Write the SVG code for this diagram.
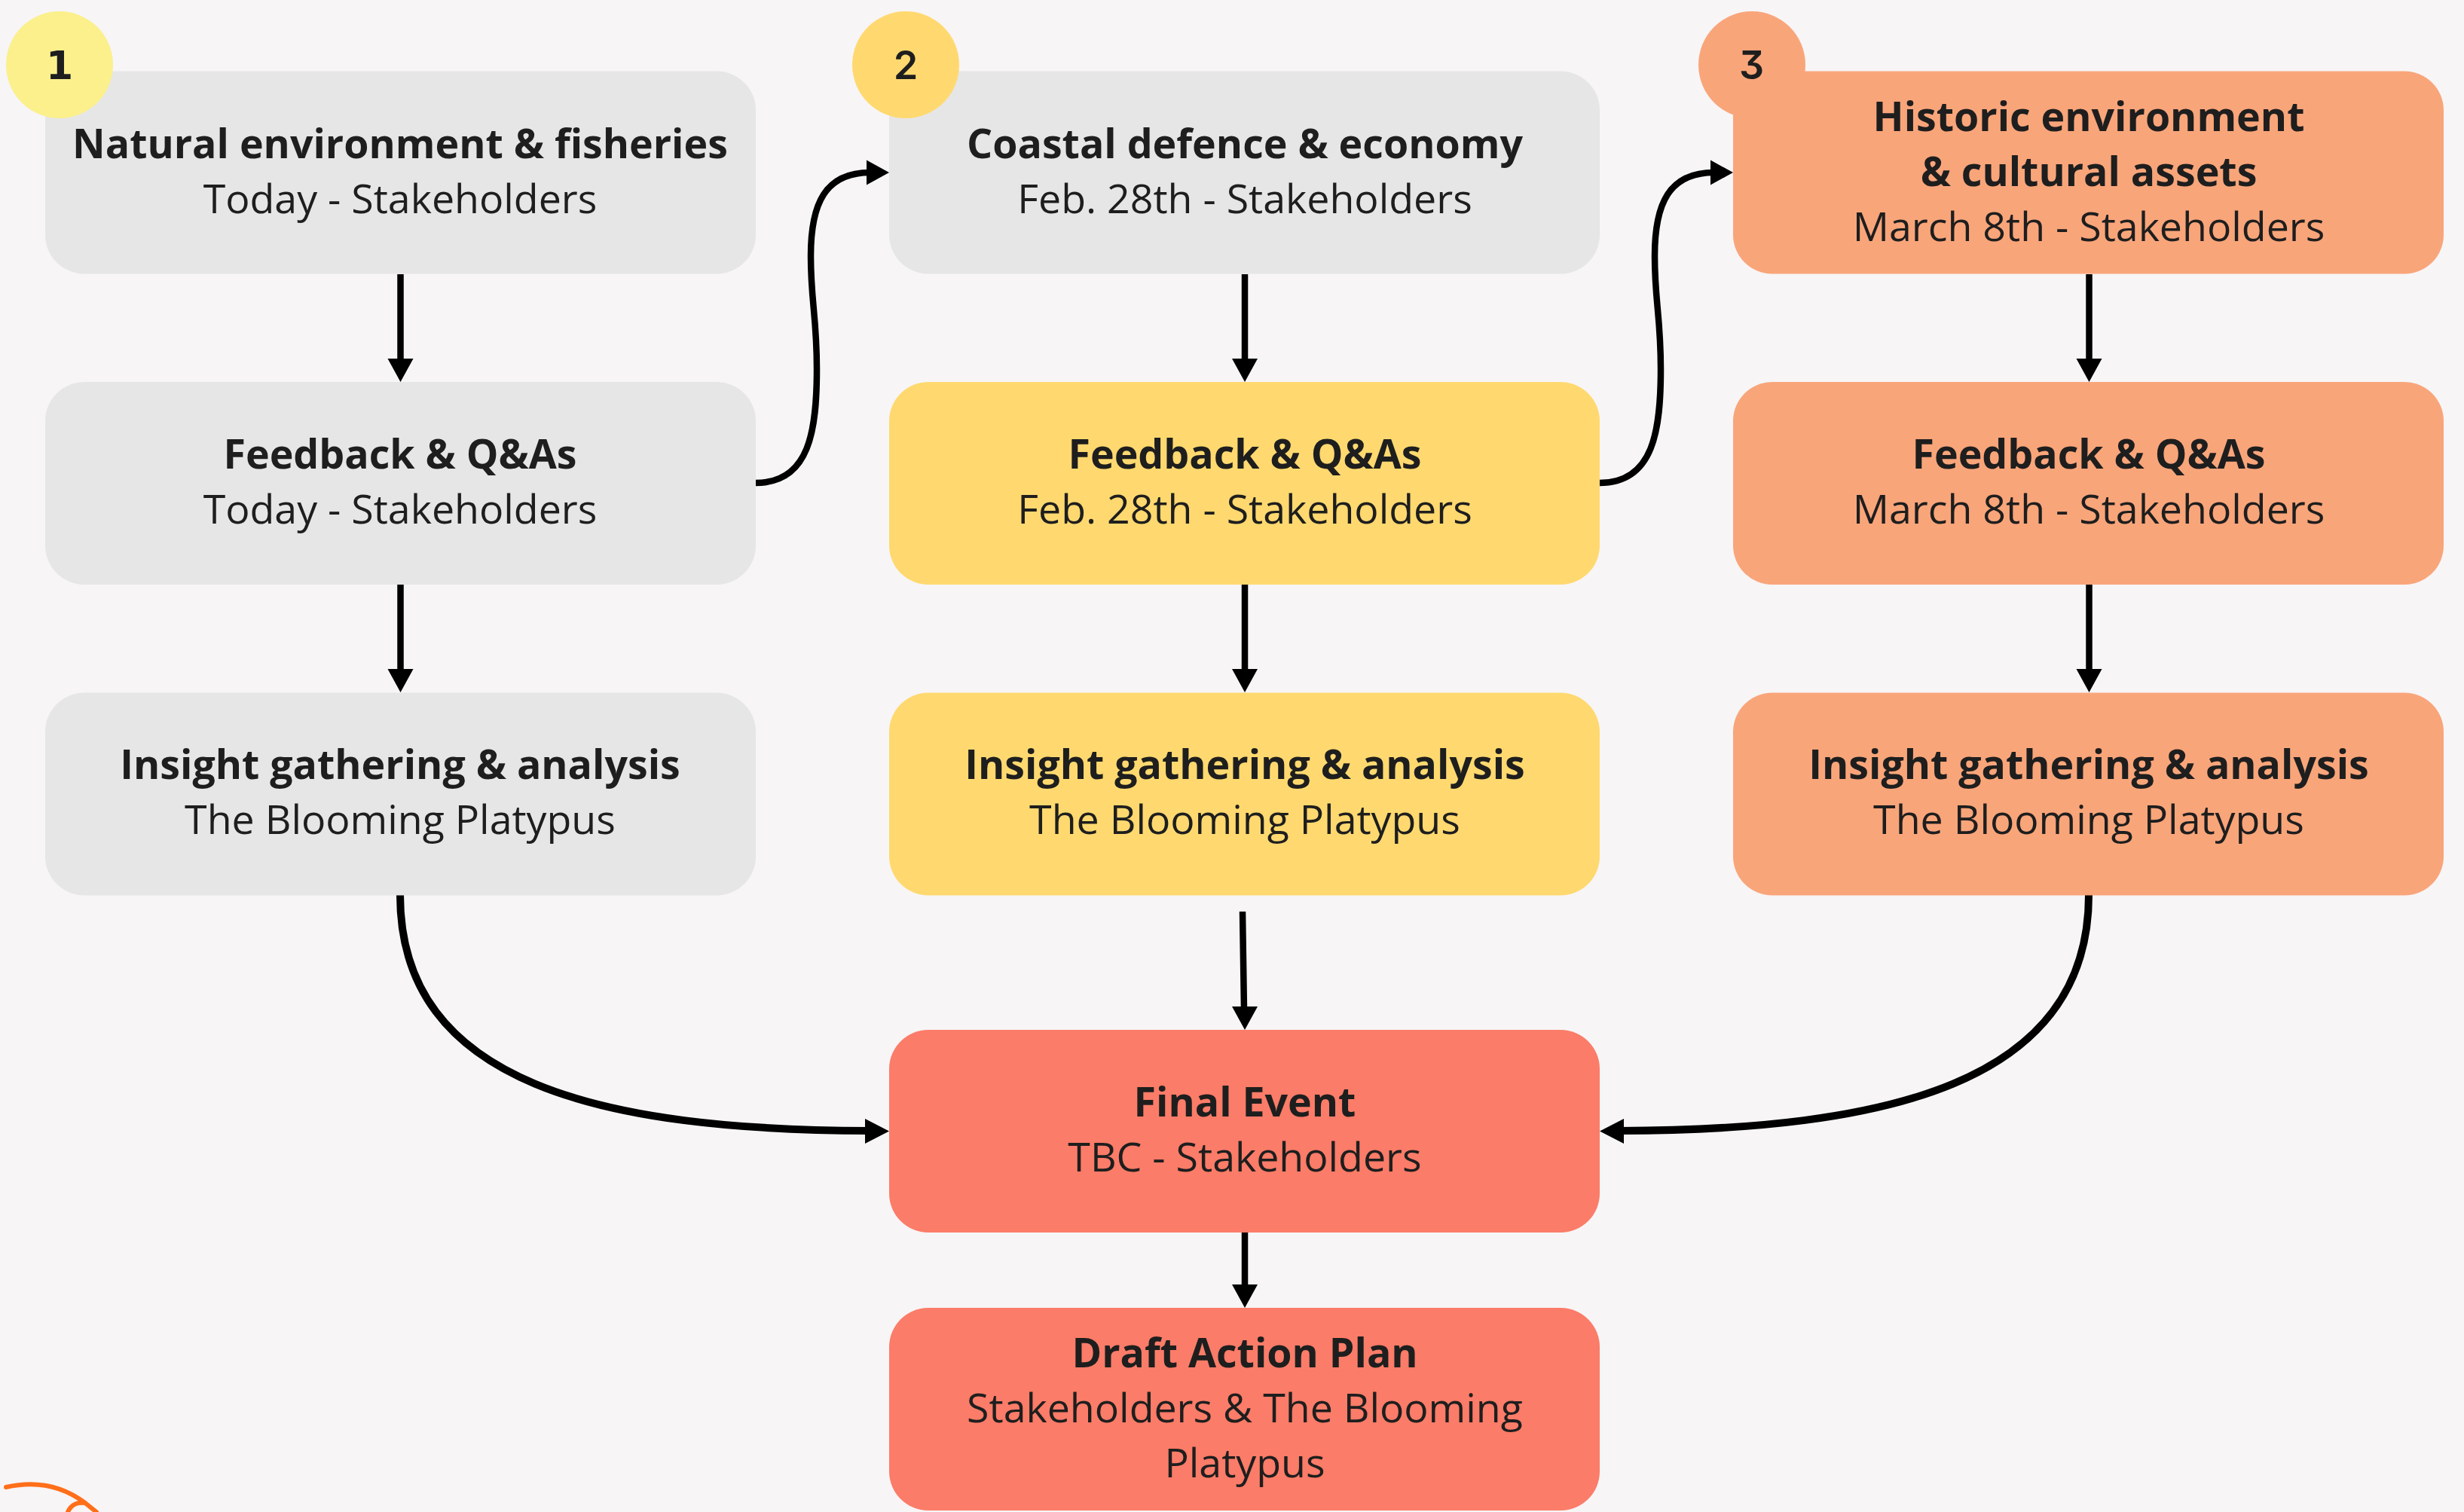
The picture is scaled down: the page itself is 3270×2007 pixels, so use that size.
<svg xmlns="http://www.w3.org/2000/svg" width="3270" height="2007" viewBox="0 0 3270 2007">
<style>
.t{font-family:"Open Sans","Noto Sans",sans-serif;font-size:53.7px;fill:#1e1e1e;text-anchor:middle}
.b{font-weight:700}
.n{font-family:Inter,"Noto Sans",sans-serif;font-size:52px;font-weight:600;fill:#1e1e1e;text-anchor:middle;font-feature-settings:"cv09","tnum"}
.d{font-family:"DejaVu Sans",sans-serif;font-size:52px;font-weight:700;fill:#1e1e1e;text-anchor:middle}
.c{fill:none;stroke:#000;stroke-width:8.500}
.w{stroke-width:10}
.h{fill:#000}
.g{fill:#e6e6e6}.y{fill:#ffd96f}.o{fill:#f9a57a}.r{fill:#fb7c68}
</style>
<defs><rect id="box" width="943" height="269" rx="52"/></defs>
<rect width="3270" height="2007" fill="#f7f5f6"/>
<path d="M8 1974C43 1966 80 1970 113 1995L128 2007M90 2007C95 1996 103 1994 113 1995" fill="none" stroke="#ff6f1a" stroke-width="6" stroke-linecap="round"/>
<g id="connectors">
<path class="c" d="M531.500 364V480M531.500 776V890M1652 364V480M1652 776V890M2772.500 364V480M2772.500 776V890M1649 1210L1651 1340M1652 1636V1708"/>
<path class="c" d="M1003 641C1075 641 1084 570 1084 490C1084 420 1076 400 1076 340C1076 270 1095 229 1155 229"/>
<path class="c" d="M2123 641C2195 641 2204 570 2204 490C2204 420 2196 400 2196 340C2196 270 2215 229 2275 229"/>
<path class="c w" d="M531 1188C531 1440 800 1500 1155 1501"/>
<path class="c w" d="M2772 1188C2772 1440 2500 1500 2148 1501"/>
<path class="h" d="M514.500 476h34l-17 31zM514.500 888h34l-17 31zM1635 476h34l-17 31zM1635 888h34l-17 31zM2755.500 476h34l-17 31zM2755.500 888h34l-17 31zM1635 1336h34l-17 31zM1635 1705h34l-17 31zM1150 212.500v33l30-16.500zM2270 212.500v33l30-16.500zM1148 1485v33l32-16.500zM2155 1485v33l-32-16.500z"/>
</g>
<g id="n1"><use href="#box" x="60" y="94.500" class="g"/><text class="t b" x="531" y="210">Natural environment &amp; fisheries</text><text class="t" x="531" y="283">Today - Stakeholders</text></g>
<g id="n2"><use href="#box" x="60" y="507" class="g"/><text class="t b" x="531" y="622">Feedback &amp; Q&amp;As</text><text class="t" x="531" y="695">Today - Stakeholders</text></g>
<g id="n3"><use href="#box" x="60" y="919.500" class="g"/><text class="t b" x="531" y="1034">Insight gathering &amp; analysis</text><text class="t" x="531" y="1107">The Blooming Platypus</text></g>
<g id="n4"><use href="#box" x="1180" y="94.500" class="g"/><text class="t b" x="1652" y="210">Coastal defence &amp; economy</text><text class="t" x="1652" y="283">Feb. 28th - Stakeholders</text></g>
<g id="n5"><use href="#box" x="1180" y="507" class="y"/><text class="t b" x="1652" y="622">Feedback &amp; Q&amp;As</text><text class="t" x="1652" y="695">Feb. 28th - Stakeholders</text></g>
<g id="n6"><use href="#box" x="1180" y="919.500" class="y"/><text class="t b" x="1652" y="1034">Insight gathering &amp; analysis</text><text class="t" x="1652" y="1107">The Blooming Platypus</text></g>
<g id="n7"><use href="#box" x="2300" y="94.500" class="o"/><text class="t b" x="2772" y="173.500">Historic environment</text><text class="t b" x="2772" y="246.500">&amp; cultural assets</text><text class="t" x="2772" y="320">March 8th - Stakeholders</text></g>
<g id="n8"><use href="#box" x="2300" y="507" class="o"/><text class="t b" x="2772" y="622">Feedback &amp; Q&amp;As</text><text class="t" x="2772" y="695">March 8th - Stakeholders</text></g>
<g id="n9"><use href="#box" x="2300" y="919.500" class="o"/><text class="t b" x="2772" y="1034">Insight gathering &amp; analysis</text><text class="t" x="2772" y="1107">The Blooming Platypus</text></g>
<g id="n10"><use href="#box" x="1180" y="1367" class="r"/><text class="t b" x="1652" y="1482">Final Event</text><text class="t" x="1652" y="1555">TBC - Stakeholders</text></g>
<g id="n11"><use href="#box" x="1180" y="1736" class="r"/><text class="t b" x="1652" y="1815">Draft Action Plan</text><text class="t" x="1652" y="1888">Stakeholders &amp; The Blooming</text><text class="t" x="1652" y="1961">Platypus</text></g>
<g id="b1"><circle cx="79" cy="86" r="71" fill="#fbf08b"/><text class="d" x="79" y="105">1</text></g>
<g id="b2"><circle cx="1202" cy="86" r="71" fill="#ffd96f"/><text class="n" x="1202" y="105">2</text></g>
<g id="b3"><circle cx="2325" cy="86" r="71" fill="#f9a57a"/><text class="n" x="2325" y="105">3</text></g>
</svg>
